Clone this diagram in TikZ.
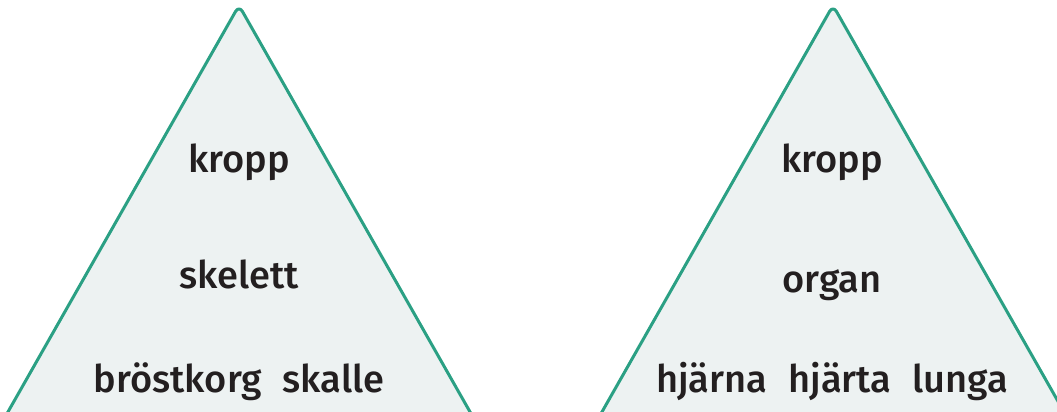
\documentclass[tikz,border=0pt]{standalone}
\usepackage{fontspec}
\setmainfont{Fira Sans}[UprightFont=* Medium]
\definecolor{triline}{HTML}{2BA084}
\definecolor{trifill}{HTML}{EDF2F2}
\definecolor{txt}{HTML}{231F20}
\tikzset{
  tri/.style={draw=triline, fill=trifill, line width=3pt, rounded corners=7pt, line join=round},
  lbl/.style={text=txt, inner sep=0pt, anchor=base, font=\fontsize{38}{40}\selectfont}
}
\newcommand{\gap}{\hspace{0.55em}}
\begin{document}
\begin{tikzpicture}[x=1pt, y=-1pt]
	\useasboundingbox (0,0) rectangle (1057,412);
	\clip (0,0) rectangle (1057,412);
	%\draw[dotted] (0,0) grid[step=50] (1057,412);
	\draw[tri] (239,5.4) -- (486,440) -- (-8,440) -- cycle;
	\draw[tri] (833,5.4) -- (1080,440) -- (586,440) -- cycle;
	\node[lbl] (kroppA) at (239,172) {kropp};
	\node[lbl] (skelett) at (239,288) {skelett};
	\node[lbl] (benA) at (239,392) {bröstkorg\gap skalle};
	\node[lbl] (kroppB) at (832,172) {kropp};
	\node[lbl] (organ) at (832,292) {organ};
	\node[lbl] (benB) at (832,392) {hjärna\gap hjärta\gap lunga};
\end{tikzpicture}
\end{document}
